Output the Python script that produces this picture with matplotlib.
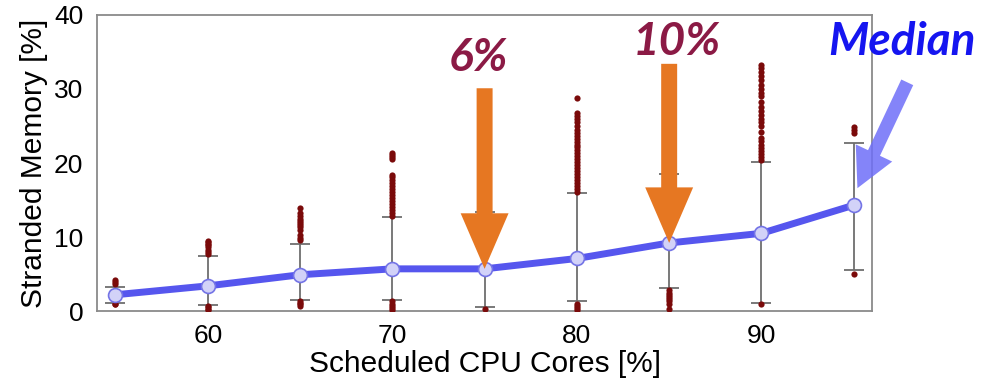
import matplotlib
matplotlib.use("Agg")
import matplotlib.pyplot as plt

# Scheduled CPU cores [%]
cpu = [55, 60, 65, 70, 75, 80, 85, 90, 95]
# stranded memory [%]
median = [2.2, 3.4, 4.9, 5.7, 5.7, 7.1, 9.2, 10.5, 14.3]
whisk_hi = [3.3, 7.5, 9.1, 12.7, 13.4, 15.9, 18.5, 20.2, 22.7]
whisk_lo = [1.1, 0.8, 1.5, 1.5, 0.5, 1.3, 3.1, 1.1, 5.5]

out_hi = [
    [3.6, 3.9, 4.2],
    [7.7, 8.0, 8.3, 8.6, 8.9, 9.1, 9.3, 9.5],
    [9.6, 9.9, 10.3, 11.0, 11.3, 11.6, 11.9, 12.2, 12.5, 12.8, 13.2, 13.9],
    [12.9, 13.3, 13.7, 14.1, 14.5, 14.9, 15.3, 15.7, 16.1, 16.5, 16.9,
     17.3, 17.7, 18.1, 18.4, 20.5, 20.8, 21.1, 21.4],
    [],
    [16.1, 16.5, 16.9, 17.3, 17.7, 18.1, 18.5, 18.9, 19.3, 19.7, 20.1,
     20.5, 20.9, 21.3, 21.7, 22.1, 22.5, 22.9, 23.3, 23.7, 24.1, 24.5,
     25.0, 25.5, 26.0, 26.4, 26.8, 28.8],
    [],
    [20.4, 20.8, 21.2, 21.6, 22.0, 22.5, 23.0, 23.4, 24.2, 25.0, 25.5,
     26.0, 26.5, 27.0, 27.5, 28.3, 29.0, 29.5, 30.0, 30.5, 31.2, 31.7,
     32.3, 32.8, 33.2],
    [24.1, 24.5, 24.9],
]
out_lo = [
    [0.9, 1.0],
    [0.1, 0.3, 0.5, 0.7],
    [0.7, 0.9, 1.1, 1.3],
    [0.1, 0.4, 0.7, 1.0, 1.3],
    [0.3],
    [0.1, 0.4, 0.7, 1.0],
    [0.3, 1.0, 1.3, 1.6, 1.9, 2.2, 2.5, 2.8],
    [0.9],
    [5.0],
]

plt.rcParams['font.family'] = ['Liberation Sans', 'DejaVu Sans']

fig = plt.figure(figsize=(9.9, 3.84), dpi=100)
ax = fig.add_axes([0.098, 0.19, 0.783, 0.771])

# whiskers
err_lo = [m - w for m, w in zip(median, whisk_lo)]
err_hi = [w - m for m, w in zip(median, whisk_hi)]
ax.errorbar(cpu, median, yerr=[err_lo, err_hi], fmt='none', ecolor='#6e6e6e',
            elinewidth=1.3, capsize=7.5, capthick=1.3, zorder=2)

# outliers
for x, hi, lo in zip(cpu, out_hi, out_lo):
    vals = hi + lo
    ax.scatter([x] * len(vals), vals, s=20, color='#7a0a0a', zorder=3,
               linewidths=0)

# median line
ax.plot(cpu, median, color='#5656ee', linewidth=5, zorder=4,
        solid_capstyle='round')
ax.plot(cpu, median, 'o', markersize=10, markerfacecolor='#d2d2f8',
        markeredgecolor='#7474e6', markeredgewidth=1.2, zorder=5)

ax.set_xlim(54, 96)
ax.set_ylim(0, 40)
ax.set_xticks([60, 70, 80, 90])
ax.set_yticks([0, 10, 20, 30, 40])
ax.tick_params(length=0, labelsize=19)
ax.tick_params(axis='x', pad=9)
ax.tick_params(axis='y', pad=10)
ax.set_xlabel('Scheduled CPU Cores [%]', fontsize=21.5, labelpad=2)
ax.set_ylabel('Stranded Memory [%]', fontsize=21.5, labelpad=4)
for sp in ax.spines.values():
    sp.set_color('#8a8a8a')
    sp.set_linewidth(1.3)

# orange arrows
orange = '#e67722'
for x0, ytail, ytip in [(75, 30.1, median[4]), (85, 33.4, median[6])]:
    ax.annotate('', xy=(x0, ytip), xytext=(x0, ytail),
                arrowprops=dict(arrowstyle='simple,head_length=4.0,head_width=3.45,tail_width=1.15',
                                mutation_scale=10, color=orange, shrinkA=0, shrinkB=0,
                                linewidth=0),
                zorder=6)

ax.text(74.65, 34.2, '6%', color='#8b1a45', fontsize=33, fontweight='bold',
        style='italic', family='Lato', ha='center', va='center', zorder=7)
ax.text(85.4, 36.4, '10%', color='#8b1a45', fontsize=33, fontweight='bold',
        style='italic', family='Lato', ha='center', va='center', zorder=7)

# median pointer
ax.annotate('', xy=(95.2, 16.6), xytext=(97.9, 30.9),
            arrowprops=dict(arrowstyle='simple,head_length=2.8,head_width=2.9,tail_width=0.95',
                            mutation_scale=10, color='#6f6ff8', alpha=0.85,
                            shrinkA=0, shrinkB=0, linewidth=0),
            annotation_clip=False, zorder=6)
ax.text(97.6, 36.4, 'Median', color='#1515f0', fontsize=33, fontweight='bold',
        style='italic', family='Lato', ha='center', va='center', zorder=7,
        clip_on=False)

fig.savefig('out.png', dpi=100)
